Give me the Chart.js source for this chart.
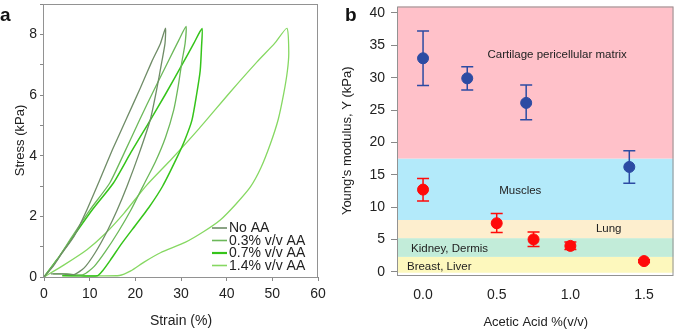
<!DOCTYPE html>
<html>
<head>
<meta charset="utf-8">
<script src="https://cdn.jsdelivr.net/npm/chart.js@4.4.1/dist/chart.umd.min.js"></script>
<style>
  body { margin: 0; background: #fff; }
  #wrap { position: relative; width: 680px; height: 330px; }
  canvas { position: absolute; top: 0; }
</style>
</head>
<body>
<div id="wrap">
  <canvas id="strainChart" width="340" height="330" style="left:0"></canvas>
  <canvas id="modulusChart" width="340" height="330" style="left:340px"></canvas>
</div>
<script>
// ---- panel a: loading/unloading loops (strain %, stress kPa) ----
const noAAStrain = [0, 2, 4, 6.6, 9.2, 12.2, 15, 18, 21, 23.6, 25.5, 26.6, 26.5, 25.8, 24.7, 23.3, 20.9, 18.2, 16, 13.8, 11.2, 8.8, 6.6, 4, 1.5];
const noAAStress = [0, 0.35, 0.8, 1.35, 2.15, 3.2, 4.2, 5.2, 6.2, 7.1, 7.7, 8.2, 7.7, 7.1, 6.2, 5.2, 4.1, 3.0, 2.2, 1.5, 0.8, 0.3, 0.08, 0.1, 0.1];

const aa03Strain = [0, 3, 6, 10, 14.4, 17.6, 21, 24.2, 27.3, 29.5, 31.1, 30.9, 30.2, 29.4, 28.4, 26.6, 24.4, 21.8, 19, 16.3, 13.5, 11, 8.6, 5, 2];
const aa03Stress = [0, 0.6, 1.3, 2.2, 3.1, 4.1, 5.2, 6.2, 7.14, 7.8, 8.26, 7.7, 7.1, 6.3, 5.5, 4.6, 3.8, 3.03, 2.2, 1.5, 0.85, 0.35, 0.08, 0.1, 0.1];

const aa07Strain = [0, 3, 6, 10.5, 15.2, 19, 22.6, 26.5, 30.6, 32.8, 34.6, 34.5, 34.2, 33.4, 32.4, 30.8, 29, 26, 23, 20, 17, 14.5, 12.8, 11.7, 8, 4];
const aa07Stress = [0, 0.6, 1.25, 2.2, 3.1, 4.1, 5.0, 6.0, 7.1, 7.7, 8.19, 7.6, 6.8, 6.0, 5.17, 4.5, 3.9, 3.0, 2.3, 1.7, 1.1, 0.55, 0.2, 0.04, 0.04, 0.05];

const aa14Strain = [0, 4.4, 9.4, 13.2, 17.5, 22.5, 28, 34, 40.8, 46.7, 50.5, 53.2, 53.6, 53.3, 52.5, 51.3, 49.6, 47.5, 45.2, 42, 38.6, 35, 31, 25.5, 22, 19, 16.5, 10, 4];
const aa14Stress = [0, 0.4, 0.9, 1.4, 2.1, 3.03, 3.9, 4.9, 6.1, 7.1, 7.7, 8.2, 7.4, 6.8, 6.05, 5.2, 4.4, 3.6, 2.97, 2.4, 1.88, 1.5, 1.15, 0.8, 0.5, 0.2, 0.05, 0.04, 0.04];

const loopLabels = ['No AA', '0.3% v/v AA', '0.7% v/v AA', '1.4% v/v AA'];

// ---- panel b: Young's modulus vs acetic acid ----
const blueAcid = [0, 0.3, 0.7, 1.4];
const blueModulus = [33.0, 29.9, 26.1, 16.2];
const blueLow = [28.8, 28.1, 23.5, 13.7];
const blueHigh = [37.2, 31.7, 28.85, 18.7];

const redAcid = [0, 0.5, 0.75, 1.0, 1.5];
const redModulus = [12.7, 7.5, 5.0, 4.0, 1.65];
const redLow = [10.95, 6.05, 3.9, 3.45, 1.45];
const redHigh = [14.4, 9.0, 6.15, 4.6, 1.85];

const tissueNames = ['Breast, Liver', 'Kidney, Dermis', 'Lung', 'Muscles', 'Cartilage pericellular matrix'];
const tissueLow = [-0.15, 2.3, 5.2, 8, 17.5];
const tissueHigh = [2.3, 5.2, 8, 17.5, 41];
const tissueLabelAcid = [0.11, 0.18, 1.26, 0.66, 0.91];
const tissueLabelModulus = [0.75, 3.6, 6.7, 12.5, 33.6];

const tissueColors = ['#fdf8bd', '#c2ecd9', '#fdeece', '#b3eafa', '#ffc1c9'];

const FONT = '"Liberation Sans", Arial, sans-serif';
Chart.defaults.font.family = FONT;
Chart.defaults.color = '#222';

const toPoints = (xs, ys) => xs.map((x, i) => ({x: x, y: ys[i]}));

const frame = {
  id: 'frame',
  afterDraw(chart, args, opts) {
    const {ctx, chartArea: a} = chart;
    ctx.save();
    ctx.strokeStyle = '#929292';
    ctx.lineWidth = 1;
    ctx.strokeRect(a.left - 0.5, a.top + 0.5, a.right - a.left, a.bottom - a.top);
    ctx.fillStyle = '#111';
    ctx.font = 'bold 19px ' + FONT;
    ctx.textBaseline = 'alphabetic';
    ctx.fillText(opts.letter, opts.lx, 21);
    ctx.restore();
  }
};

const loopLegend = {
  id: 'loopLegend',
  afterDatasetsDraw(chart) {
    const {ctx, chartArea: a} = chart;
    const x0 = a.right - 106, y0 = a.bottom - 49;
    ctx.save();
    ctx.font = '14px ' + FONT;
    ctx.textBaseline = 'middle';
    chart.data.datasets.forEach((ds, i) => {
      const y = y0 + i * 12.5;
      ctx.strokeStyle = ds.borderColor;
      ctx.lineWidth = i === 2 ? 2.2 : 1.6;
      ctx.beginPath();
      ctx.moveTo(x0, y);
      ctx.lineTo(x0 + 15, y);
      ctx.stroke();
      ctx.fillStyle = '#222';
      ctx.fillText(ds.label, x0 + 17, y + 0.5);
    });
    ctx.restore();
  }
};

const bands = {
  id: 'bands',
  beforeDatasetsDraw(chart) {
    const {ctx, chartArea: a, scales: {x, y}} = chart;
    ctx.save();
    tissueNames.forEach((name, i) => {
      const top = y.getPixelForValue(tissueHigh[i]);
      const bot = y.getPixelForValue(tissueLow[i]);
      ctx.fillStyle = tissueColors[i];
      ctx.fillRect(a.left, Math.max(top, a.top), a.right - a.left, Math.min(bot, a.bottom) - Math.max(top, a.top));
    });
    ctx.font = '11.5px ' + FONT;
    ctx.fillStyle = '#222';
    ctx.textAlign = 'center';
    ctx.textBaseline = 'middle';
    tissueNames.forEach((name, i) => {
      ctx.fillText(name, x.getPixelForValue(tissueLabelAcid[i]), y.getPixelForValue(tissueLabelModulus[i]));
    });
    ctx.restore();
  }
};

const errorBars = {
  id: 'errorBars',
  beforeDatasetsDraw(chart) {
    const {ctx, scales: {x, y}} = chart;
    ctx.save();
    chart.data.datasets.forEach(ds => {
      ctx.strokeStyle = ds.borderColor;
      ctx.lineWidth = 1.5;
      ds.data.forEach((p, i) => {
        const px = x.getPixelForValue(p.x);
        const lo = y.getPixelForValue(ds.errLow[i]);
        const hi = y.getPixelForValue(ds.errHigh[i]);
        ctx.beginPath();
        ctx.moveTo(px, lo); ctx.lineTo(px, hi);
        ctx.moveTo(px - 6, lo); ctx.lineTo(px + 6, lo);
        ctx.moveTo(px - 6, hi); ctx.lineTo(px + 6, hi);
        ctx.stroke();
      });
    });
    ctx.restore();
  }
};

const loopSeries = [
  [noAAStrain, noAAStress, '#6f8c67', 1.3],
  [aa03Strain, aa03Stress, '#6cb85a', 1.3],
  [aa07Strain, aa07Stress, '#35c41a', 1.5],
  [aa14Strain, aa14Stress, '#86d862', 1.3]
];

new Chart(document.getElementById('strainChart'), {
  type: 'scatter',
  data: {
    datasets: loopSeries.map((s, i) => ({
      label: loopLabels[i],
      data: toPoints(s[0], s[1]),
      showLine: true,
      borderColor: s[2],
      borderWidth: s[3],
      pointRadius: 0,
      tension: 0.2
    }))
  },
  options: {
    responsive: false,
    animation: false,
    layout: { padding: { top: 4, right: 22, left: 0, bottom: 0 } },
    plugins: { legend: { display: false }, tooltip: { enabled: false }, frame: { letter: 'a', lx: 0 } },
    scales: {
      x: {
        type: 'linear', min: 0, max: 60,
        ticks: { stepSize: 10, padding: 5, font: { size: 14 } },
        grid: { drawOnChartArea: false, tickLength: 4, color: '#888' },
        border: { display: false },
        title: { display: true, text: 'Strain (%)', font: { size: 14 }, padding: 0 },
        afterFit(s) { s.height = 53; s.paddingLeft = 0; s.paddingRight = 0; }
      },
      y: {
        type: 'linear', min: 0, max: 9,
        ticks: { stepSize: 1, includeBounds: false, padding: 3, font: { size: 14 },
          callback: v => (v % 2 === 0 ? String(v) : '') },
        grid: { drawOnChartArea: false, tickLength: 4, color: '#888' },
        border: { display: false },
        title: { display: true, text: 'Stress (kPa)', font: { size: 13 }, padding: { top: 13, bottom: 0 } },
        afterFit(s) { s.width = 44; s.paddingTop = 0; s.paddingBottom = 0; }
      }
    }
  },
  plugins: [loopLegend, frame]
});

new Chart(document.getElementById('modulusChart'), {
  type: 'scatter',
  data: {
    datasets: [
      {
        label: 'blue',
        data: toPoints(blueAcid, blueModulus),
        errLow: blueLow, errHigh: blueHigh,
        borderColor: '#2c4ba3', backgroundColor: '#2c4ba3',
        pointRadius: 5.5
      },
      {
        label: 'red',
        data: toPoints(redAcid, redModulus),
        errLow: redLow, errHigh: redHigh,
        borderColor: '#ff0a0a', backgroundColor: '#ff0a0a',
        pointRadius: 5.5
      }
    ]
  },
  options: {
    responsive: false,
    animation: false,
    layout: { padding: { top: 4, right: 2, left: 0, bottom: 0 } },
    plugins: { legend: { display: false }, tooltip: { enabled: false }, frame: { letter: 'b', lx: 5 } },
    scales: {
      x: {
        type: 'linear', min: -0.17, max: 1.7,
        ticks: { stepSize: 0.5, includeBounds: false, padding: 12, font: { size: 14 },
          callback: v => v.toFixed(1) },
        grid: { display: false, drawTicks: false },
        border: { display: false },
        title: { display: true, text: 'Acetic Acid %(v/v)', font: { size: 13 }, padding: 0 },
        afterFit(s) { s.height = 55; s.paddingLeft = 0; s.paddingRight = 0; }
      },
      y: {
        type: 'linear', min: -0.5, max: 41,
        ticks: { stepSize: 5, includeBounds: false, padding: 6, font: { size: 14 } },
        grid: { drawOnChartArea: false, tickLength: 7, color: '#888' },
        border: { display: false },
        title: { display: true, text: "Young's modulus, Y (kPa)", font: { size: 13 }, padding: { top: 0, bottom: 0 } },
        afterFit(s) { s.width = 58; s.paddingTop = 0; s.paddingBottom = 0; }
      }
    }
  },
  plugins: [bands, errorBars, frame]
});
</script>
</body>
</html>
